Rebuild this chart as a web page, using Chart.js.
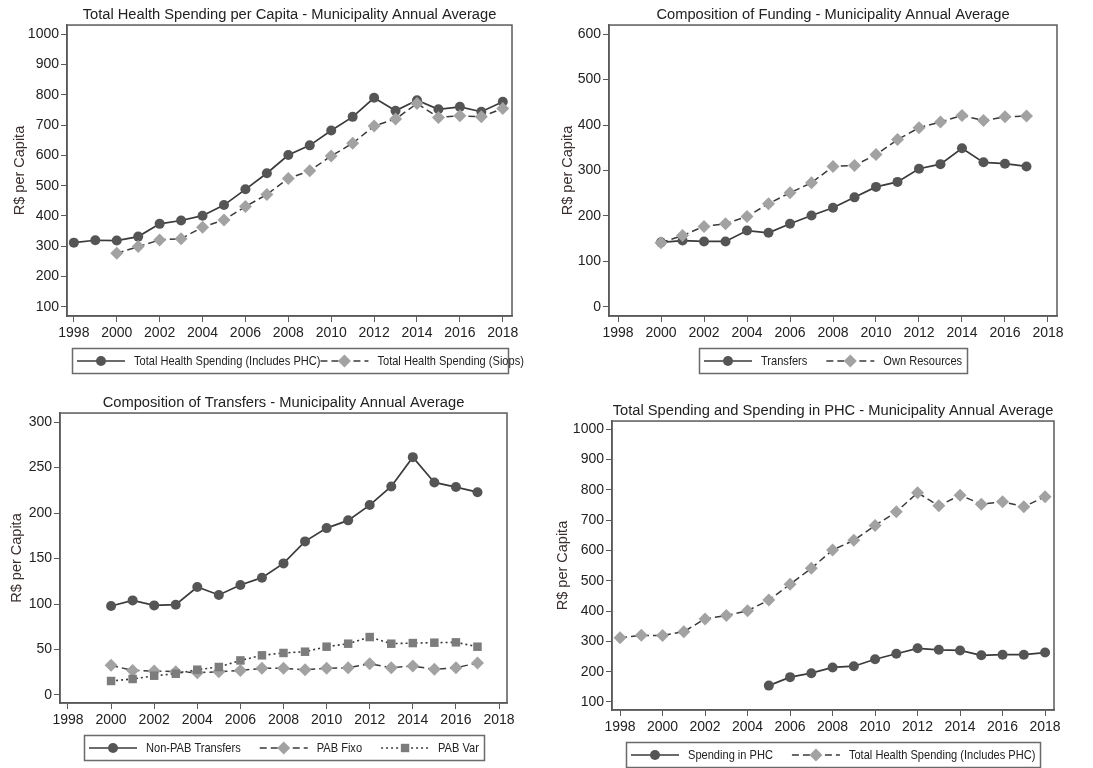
<!DOCTYPE html>
<html>
<head>
<meta charset="utf-8">
<script src="https://cdn.jsdelivr.net/npm/chart.js@4/dist/chart.umd.min.js"></script>
<style>
	html, body { margin: 0; padding: 0; background: #fff; }
	#wrap { position: relative; width: 1093px; height: 768px; }
	.panel { position: absolute; height: 384px; }
</style>
</head>
<body>
<div id="wrap">
	<div class="panel" style="left:0;top:0;width:546px"><canvas id="c1"></canvas></div>
	<div class="panel" style="left:546px;top:0;width:547px"><canvas id="c2"></canvas></div>
	<div class="panel" style="left:0;top:384px;width:546px"><canvas id="c3"></canvas></div>
	<div class="panel" style="left:546px;top:384px;width:547px"><canvas id="c4"></canvas></div>
</div>
<script>
// years
const years1998to2018 = [1998, 1999, 2000, 2001, 2002, 2003, 2004, 2005, 2006, 2007, 2008, 2009, 2010, 2011, 2012, 2013, 2014, 2015, 2016, 2017, 2018];
const years2000to2018 = [2000, 2001, 2002, 2003, 2004, 2005, 2006, 2007, 2008, 2009, 2010, 2011, 2012, 2013, 2014, 2015, 2016, 2017, 2018];
const years2000to2017 = [2000, 2001, 2002, 2003, 2004, 2005, 2006, 2007, 2008, 2009, 2010, 2011, 2012, 2013, 2014, 2015, 2016, 2017];
const years2005to2018 = [2005, 2006, 2007, 2008, 2009, 2010, 2011, 2012, 2013, 2014, 2015, 2016, 2017, 2018];

// R$ per capita, municipality annual averages
const totalInclPHC = [312, 320, 319, 332, 374, 385, 401, 436, 488, 541, 601, 633, 682, 727, 790, 747, 782, 752, 760, 744, 777];
const totalSiops = [277, 299, 321, 325, 363, 387, 431, 471, 524, 549, 598, 640, 697, 720, 771, 725, 731, 727, 755];
const transfers = [142, 146, 144, 144, 168, 163, 183, 201, 218, 241, 264, 275, 304, 314, 349, 318, 315, 309];
const ownResources = [141, 157, 177, 183, 199, 227, 251, 273, 309, 311, 335, 368, 394, 407, 421, 410, 418, 420];
const nonPabTransfers = [97.8, 104, 98.5, 99.3, 118.7, 110, 121, 129, 144.7, 168.9, 183.5, 192, 208.8, 229.3, 261.5, 233.7, 228.6, 223];
const pabFixo = [32.6, 27, 26.4, 25.6, 24.5, 25.6, 27, 29.3, 29.3, 27.8, 29.3, 30, 34.4, 30, 31.9, 28.2, 30, 35.2];
const pabVar = [15.4, 17.6, 21.2, 23.4, 27.8, 30.8, 38, 43.6, 46.2, 47.6, 53.1, 56.4, 63.7, 56.4, 57.1, 57.5, 57.9, 53.1];
const spendingPHC = [154, 182, 195, 214, 218, 241, 259, 277, 272, 270, 254, 256, 256, 263];

// tick labels
const xTicks = [1998, 2000, 2002, 2004, 2006, 2008, 2010, 2012, 2014, 2016, 2018];
const yTicksTotal = [100, 200, 300, 400, 500, 600, 700, 800, 900, 1000];
const yTicksFunding = [0, 100, 200, 300, 400, 500, 600];
const yTicksTransfers = [0, 50, 100, 150, 200, 250, 300];

const FONT = '"Liberation Sans", Arial, sans-serif';
const TXT = '#222222';
const AXIS = '#5a5a5a';
const DARK = '#555555';
const LINE = '#3a3a3a';
const LIGHT = '#a2a2a2';
const MID = '#7c7c7c';

const points = (years, values) => years.map((x, i) => ({ x: x, y: values[i] }));

function solidCircle(label, years, values, order) {
	return {
		label, data: points(years, values), order,
		borderColor: LINE, borderWidth: 1.7,
		pointStyle: 'circle', pointRadius: 5,
		pointBackgroundColor: DARK, pointBorderColor: DARK, pointBorderWidth: 0,
		marker: 'circle',
	};
}
function dashDiamond(label, years, values, order) {
	return {
		label, data: points(years, values), order,
		borderColor: LINE, borderWidth: 1.5, borderDash: [7, 4],
		pointStyle: 'rectRot', pointRadius: 6.5,
		pointBackgroundColor: LIGHT, pointBorderColor: LIGHT, pointBorderWidth: 0,
		marker: 'diamond',
	};
}
function dotSquare(label, years, values, order) {
	return {
		label, data: points(years, values), order,
		borderColor: LINE, borderWidth: 1.6, borderDash: [2, 3],
		pointStyle: 'rect', pointRadius: 6,
		pointBackgroundColor: MID, pointBorderColor: MID, pointBorderWidth: 0,
		marker: 'square',
	};
}

// рамка вокруг поля диаграммы
const plotFrame = {
	id: 'plotFrame',
	beforeDatasetsDraw(chart) {
		const { ctx, chartArea: { left, top, width, height } } = chart;
		ctx.save();
		ctx.strokeStyle = AXIS;
		ctx.lineWidth = 1.5;
		ctx.strokeRect(left, top, width, height);
		ctx.restore();
	},
};

function drawMarker(ctx, kind, x, y, color) {
	ctx.fillStyle = color;
	ctx.beginPath();
	if (kind === 'circle') {
		ctx.arc(x, y, 5, 0, Math.PI * 2);
	} else if (kind === 'diamond') {
		ctx.moveTo(x, y - 6.5); ctx.lineTo(x + 6.5, y); ctx.lineTo(x, y + 6.5); ctx.lineTo(x - 6.5, y);
		ctx.closePath();
	} else {
		ctx.rect(x - 4.2, y - 4.2, 8.4, 8.4);
	}
	ctx.fill();
}

// легенда в рамке под графиком: линия с маркером и подпись
const boxLegend = {
	id: 'boxLegend',
	afterDraw(chart, args, opts) {
		const { ctx, chartArea } = chart;
		const sampleW = 48, textGap = 9, pad = 5, h = 25, squeeze = 0.82;
		const itemGap = opts.itemGap !== undefined ? opts.itemGap : 19;
		ctx.save();
		ctx.font = '13.5px ' + FONT;
		const items = chart.data.datasets.map((ds) => ({ ds, w: ctx.measureText(ds.label).width * squeeze }));
		const natural = pad * 2 + items.reduce((s, it) => s + sampleW + textGap + it.w, 0) + itemGap * (items.length - 1);
		const total = opts.boxWidth || natural;
		const cx = (chartArea.left + chartArea.right) / 2;
		const top = Math.round(chartArea.bottom) + 32;
		let x = Math.round(cx - total / 2);
		ctx.strokeStyle = '#6a6a6a';
		ctx.lineWidth = 1.5;
		ctx.strokeRect(x + 0.5, top + 0.5, Math.round(total), h);
		const my = top + h / 2 + 0.5;
		x += pad;
		items.forEach((it) => {
			const ds = it.ds;
			ctx.strokeStyle = ds.borderColor;
			ctx.lineWidth = ds.borderWidth;
			ctx.setLineDash(ds.borderDash || []);
			ctx.beginPath();
			ctx.moveTo(x, my);
			ctx.lineTo(x + sampleW, my);
			ctx.stroke();
			ctx.setLineDash([]);
			drawMarker(ctx, ds.marker, x + sampleW / 2, my, ds.pointBackgroundColor);
			ctx.save();
			ctx.translate(x + sampleW + textGap, my);
			ctx.scale(squeeze, 1);
			ctx.fillStyle = TXT;
			ctx.textBaseline = 'middle';
			ctx.textAlign = 'left';
			ctx.fillText(ds.label, 0, 0);
			ctx.restore();
			x += sampleW + textGap + it.w + itemGap;
		});
		ctx.restore();
	},
};

function makeChart(id, cfg) {
	const canvas = document.getElementById(id);
	const W = canvas.parentNode.clientWidth, H = 384;
	const a = cfg.area;
	return new Chart(canvas, {
		type: 'line',
		data: { datasets: cfg.datasets },
		options: {
			responsive: true,
			maintainAspectRatio: false,
			animation: false,
			events: [],
			layout: { padding: { left: 0, top: 0, right: W - a.right, bottom: H - a.bottom - 30 } },
			plugins: {
				legend: { display: false },
				tooltip: { enabled: false },
				title: {
					display: true,
					text: cfg.title,
					fullSize: false,
					color: TXT,
					font: { family: FONT, size: 14.7, weight: 'normal', lineHeight: 1.2 },
					padding: { top: a.top - 19, bottom: 1.4 },
				},
				boxLegend: cfg.legend || {},
			},
			scales: {
				x: {
					type: 'linear',
					min: cfg.xRange[0],
					max: cfg.xRange[1],
					afterBuildTicks: (s) => { s.ticks = xTicks.map((v) => ({ value: v })); },
					afterFit: (s) => { s.height = 30; },
					grid: { drawOnChartArea: false, drawTicks: true, tickLength: 6, color: AXIS },
					border: { display: true, color: AXIS, width: 1.5 },
					ticks: {
						color: TXT, padding: 3, maxRotation: 0, autoSkip: false,
						font: { family: FONT, size: 14 },
						callback: (v) => String(v),
					},
				},
				y: {
					type: 'linear',
					min: cfg.yRange[0],
					max: cfg.yRange[1],
					afterBuildTicks: (s) => { s.ticks = cfg.yTicks.map((v) => ({ value: v })); },
					afterFit: (s) => { s.width = a.left; },
					grid: { drawOnChartArea: false, drawTicks: true, tickLength: 6, color: AXIS },
					border: { display: true, color: AXIS, width: 1.5 },
					ticks: {
						color: TXT, padding: 2, autoSkip: false,
						font: { family: FONT, size: 14 },
						callback: (v) => String(v),
					},
					title: {
						display: true,
						text: 'R$ per Capita',
						color: '#3a2e2e',
						font: { family: FONT, size: 14.5 },
						padding: { top: cfg.yTitleX - 9, bottom: 0 },
					},
				},
			},
		},
		plugins: [plotFrame, boxLegend],
	});
}

makeChart('c1', {
	title: 'Total Health Spending per Capita - Municipality Annual Average',
	area: { left: 67, top: 25, right: 512, bottom: 316 },
	xRange: [1997.68, 2018.43],
	yRange: [70, 1030],
	yTicks: yTicksTotal,
	yTitleX: 20,
	legend: { boxWidth: 436, itemGap: 0 },
	datasets: [
		solidCircle('Total Health Spending (Includes PHC)', years1998to2018, totalInclPHC, 1),
		dashDiamond('Total Health Spending (Siops)', years2000to2018, totalSiops, 0),
	],
});

makeChart('c2', {
	title: 'Composition of Funding - Municipality Annual Average',
	area: { left: 63, top: 25, right: 511, bottom: 316 },
	xRange: [1997.58, 2018.42],
	yRange: [-20, 620],
	yTicks: yTicksFunding,
	yTitleX: 22,
	datasets: [
		solidCircle('Transfers', years2000to2017, transfers, 1),
		dashDiamond('Own Resources', years2000to2017, ownResources, 0),
	],
});

makeChart('c3', {
	title: 'Composition of Transfers - Municipality Annual Average',
	area: { left: 60, top: 29, right: 507, bottom: 319 },
	xRange: [1997.63, 2018.37],
	yRange: [-8.8, 310],
	yTicks: yTicksTransfers,
	yTitleX: 17,
	datasets: [
		solidCircle('Non-PAB Transfers', years2000to2017, nonPabTransfers, 0),
		dashDiamond('PAB Fixo', years2000to2017, pabFixo, 2),
		dotSquare('PAB Var', years2000to2017, pabVar, 1),
	],
});

makeChart('c4', {
	title: 'Total Spending and Spending in PHC - Municipality Annual Average',
	area: { left: 66, top: 37, right: 508, bottom: 326 },
	xRange: [1997.62, 2018.42],
	yRange: [73.6, 1026.4],
	yTicks: yTicksTotal,
	yTitleX: 17,
	datasets: [
		solidCircle('Spending in PHC', years2005to2018, spendingPHC, 0),
		dashDiamond('Total Health Spending (Includes PHC)', years1998to2018, totalInclPHC, 1),
	],
});
</script>
</body>
</html>
